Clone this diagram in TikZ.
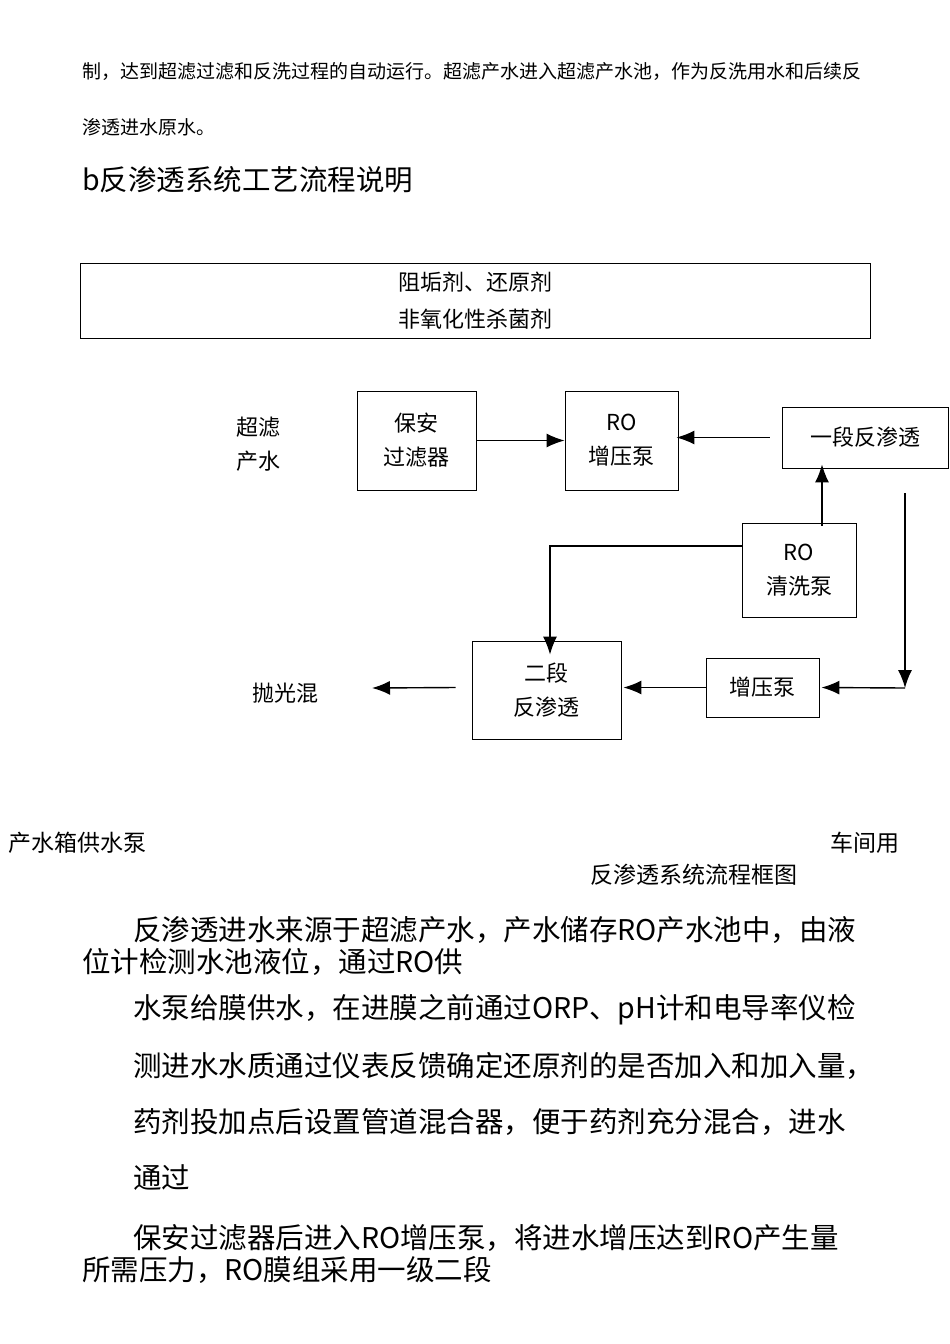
\documentclass[tikz,border=0pt]{standalone}
\usepackage{fontspec}
\setmainfont{Noto Sans CJK SC}
\usetikzlibrary{positioning, arrows.meta}
\tikzset{
  box/.style={draw, thick, inner sep=0, font=\fontsize{22}{34}\selectfont, align=center},
  flow/.style={-{Latex[length=18pt,width=14pt]}, line width=1.4pt},
  label/.style={inner sep=0, font=\fontsize{22}{34}\selectfont, align=center},
  body/.style={inner sep=0, anchor=west, font=\fontsize{28.5}{30}\selectfont},
  small/.style={inner sep=0, anchor=west, font=\fontsize{19}{20}\selectfont}
}
\begin{document}
\begin{tikzpicture}[x=1pt,y=-1pt]
\useasboundingbox[fill=white] (0,0) rectangle (950,1344);

% text above the diagram
\node [small] (t1) at (82,71) {制，达到超滤过滤和反洗过程的自动运行。超滤产水进入超滤产水池，作为反洗用水和后续反};
\node [small] (t2) at (82,127) {渗透进水原水。};
\node [body] (head) at (82,180) {b反渗透系统工艺流程说明};

% dosing box
\node [box, thin, minimum width=790, minimum height=75, font=\fontsize{22}{37}\selectfont] (dose) at (475,301) {阻垢剂、还原剂\\非氧化性杀菌剂};

% equipment
\node [box, minimum width=119, minimum height=99] (filter) at (416.5,440.5) {保安\\过滤器};
\node [box, minimum width=113, minimum height=99] (ropump) at (621.5,440.5) {RO\\增压泵};
\node [box, minimum width=166, minimum height=61] (stage1) at (865,437.5) {一段反渗透};
\node [box, minimum width=114, minimum height=94] (clean) at (799,570) {RO\\清洗泵};
\node [box, minimum width=149, minimum height=98] (stage2) at (546.5,690) {二段\\反渗透};
\node [box, minimum width=113, minimum height=59] (boost) at (762.5,687.5) {增压泵};

\node [label] (uf) at (258,444) {超滤\\产水};
\node [label] (polish) at (285,693) {抛光混};
\coordinate (out) at (372,688);
\coordinate (turn) at (550,546);
\coordinate (top) at (905,493);
\coordinate (bend) at (905,688);

% connectors
\draw [flow] (filter) -- (ropump);
\draw [flow] ([xshift=-12pt]stage1.west) -- ([xshift=-2pt]ropump.east |- stage1.west);
\draw [flow] ([xshift=23pt,yshift=-3pt]clean.north) -- ([xshift=-43pt,yshift=4pt]stage1.south);
\draw [flow] (clean.west |- turn) -- (turn) -- ([yshift=-14pt]stage2.north -| turn);
\draw [flow] (top) -- (bend);
\draw [flow] (bend) -- ([xshift=2pt]boost.east);
\draw [flow] (boost) -- ([xshift=2pt]stage2.east |- boost);
\draw [flow] ([xshift=-16pt]stage2.west |- boost) -- (out);

\node [body, font=\fontsize{23}{26}\selectfont] (tank) at (8,843) {产水箱供水泵};
\node [body, font=\fontsize{23}{26}\selectfont] (shop) at (830,843) {车间用};
\node [label, font=\fontsize{23}{26}\selectfont] (cap) at (694,875) {反渗透系统流程框图};

% text below the diagram
\node [body] (p1) at (133,930) {反渗透进水来源于超滤产水，产水储存RO产水池中，由液};
\node [body] (p2) at (82,962) {位计检测水池液位，通过RO供};
\node [body] (p3) at (133,1010) {水泵给膜供水，在进膜之前通过ORP、pH计和电导率仪检};
\node [body] (p4) at (133,1066) {测进水水质通过仪表反馈确定还原剂的是否加入和加入量，};
\node [body] (p5) at (133,1122) {药剂投加点后设置管道混合器，便于药剂充分混合，进水};
\node [body] (p6) at (133,1178) {通过};
\node [body] (p7) at (133,1238) {保安过滤器后进入RO增压泵，将进水增压达到RO产生量};
\node [body] (p8) at (82,1270) {所需压力，RO膜组采用一级二段};
\end{tikzpicture}
\end{document}
